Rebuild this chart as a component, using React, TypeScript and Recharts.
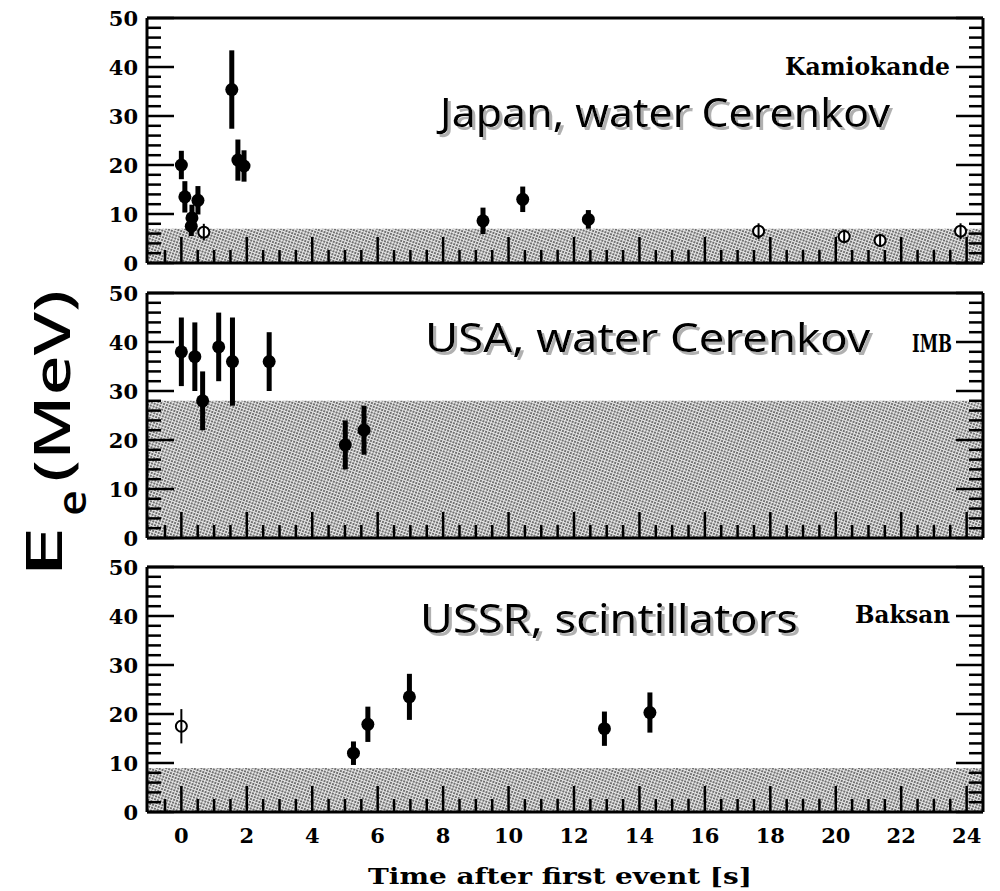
import React from 'react';
import { ScatterChart, Scatter, XAxis, YAxis, ErrorBar, ReferenceArea } from 'recharts';

// Kamiokande events: filled = above threshold, open = below
const kamTimes = [0, 0.107, 0.303, 0.324, 0.507, 1.541, 1.728, 1.915, 9.219, 10.433, 12.439];
const kamEnergy = [20.0, 13.5, 7.5, 9.2, 12.8, 35.4, 21.0, 19.8, 8.6, 13.0, 8.9];
const kamError = [2.9, 3.2, 2.0, 2.7, 2.9, 8.0, 4.2, 3.2, 2.7, 2.6, 1.9];
const kamOpenTimes = [0.686, 17.641, 20.257, 21.355, 23.814];
const kamOpenEnergy = [6.3, 6.5, 5.4, 4.6, 6.5];
const kamOpenError = [1.7, 1.6, 1.4, 1.3, 1.6];

// IMB events
const imbTimes = [0, 0.412, 0.65, 1.141, 1.562, 2.684, 5.01, 5.582];
const imbEnergy = [38, 37, 28, 39, 36, 36, 19, 22];
const imbError = [7, 7, 6, 7, 9, 6, 5, 5];

// Baksan events
const baksanTimes = [5.26, 5.7, 6.97, 12.93, 14.32];
const baksanEnergy = [12.0, 17.9, 23.5, 17.0, 20.3];
const baksanError = [2.4, 3.6, 4.7, 3.5, 4.1];
const baksanOpenTimes = [0];
const baksanOpenEnergy = [17.5];
const baksanOpenError = [3.5];

// detector thresholds (shaded band), MeV
const kamThreshold = 7;
const imbThreshold = 28;
const baksanThreshold = 9;

const xLabels = [0, 2, 4, 6, 8, 10, 12, 14, 16, 18, 20, 22, 24];
const yLabels = [0, 10, 20, 30, 40, 50];

const X_DOMAIN: [number, number] = [-1.05, 24.5];
const Y_DOMAIN: [number, number] = [0, 50];

const xTicks = Array.from({ length: 50 }, (_, i) => -0.5 + i * 0.5);
const yTicks = Array.from({ length: 26 }, (_, i) => i * 2);

const toPoints = (t: number[], e: number[], err: number[]) =>
  t.map((x, i) => ({ t: x, e: e[i], err: err[i] }));

const tickFont = { fontFamily: '"DejaVu Serif", serif', fontWeight: 700, fontSize: 21, fill: '#000' };
const frame = { stroke: '#000', strokeWidth: 3 };
const PLOT_H = 245;
const PAD = 20;

const isMajorX = (v: number) => xLabels.includes(v);
const isMajorY = (v: number) => yLabels.includes(v);

function BottomTick(props: any) {
  const { x, y, payload, showLabel } = props;
  const major = isMajorX(payload.value);
  return (
    <g>
      <line x1={x} x2={x} y1={y} y2={y - (major ? 26 : 13)} stroke="#000" strokeWidth={2.5} />
      {showLabel && major && (
        <text x={x} y={y + 31} textAnchor="middle" {...tickFont}>
          {payload.value}
        </text>
      )}
    </g>
  );
}

function TopTick(props: any) {
  const { x, y, payload } = props;
  const major = isMajorX(payload.value);
  return <line x1={x} x2={x} y1={y} y2={y + (major ? 26 : 13)} stroke="#000" strokeWidth={2.5} />;
}

function LeftTick(props: any) {
  const { x, y, payload } = props;
  const major = isMajorY(payload.value);
  return (
    <g>
      <line x1={x} x2={x + (major ? 27 : 14)} y1={y} y2={y} stroke="#000" strokeWidth={2.5} />
      {major && (
        <text x={x - 9} y={y} dy="0.36em" textAnchor="end" {...tickFont}>
          {payload.value}
        </text>
      )}
    </g>
  );
}

function RightTick(props: any) {
  const { x, y, payload } = props;
  const major = isMajorY(payload.value);
  return <line x1={x} x2={x - (major ? 27 : 14)} y1={y} y2={y} stroke="#000" strokeWidth={2.5} />;
}

const FilledDot = (p: any) => <circle cx={p.cx} cy={p.cy} r={6.5} fill="#000" />;
const OpenDot = (p: any) => (
  <g>
    <circle cx={p.cx} cy={p.cy} r={5.5} fill="#fff" stroke="#000" strokeWidth={2} />
    <line x1={p.cx} x2={p.cx} y1={p.cy - 5.5} y2={p.cy + 5.5} stroke="#000" strokeWidth={2} />
  </g>
);

interface PanelProps {
  top: number;
  bottomH: number;
  threshold: number;
  filled: Array<{ t: number; e: number; err: number }>;
  open: Array<{ t: number; e: number; err: number }>;
  showLabels?: boolean;
}

function Panel({ top, bottomH, threshold, filled, open, showLabels }: PanelProps) {
  return (
    <div style={{ position: 'absolute', left: 0, top: top - PAD }}>
      <ScatterChart width={1000} height={PAD + PLOT_H + bottomH} margin={{ top: 0, right: 0, bottom: 0, left: 0 }}>
        <ReferenceArea
          xAxisId="bottom"
          yAxisId="left"
          x1={X_DOMAIN[0]}
          x2={X_DOMAIN[1]}
          y1={0}
          y2={threshold}
          fill="url(#shade)"
          fillOpacity={1}
          stroke="none"
        />
        <XAxis
          xAxisId="bottom"
          dataKey="t"
          type="number"
          domain={X_DOMAIN}
          ticks={xTicks}
          interval={0}
          allowDataOverflow
          height={bottomH}
          tickSize={0}
          tickMargin={0}
          tickLine={false}
          axisLine={frame}
          tick={(p: any) => <BottomTick {...p} showLabel={showLabels} />}
        />
        <XAxis
          xAxisId="top"
          orientation="top"
          type="number"
          domain={X_DOMAIN}
          ticks={xTicks}
          interval={0}
          allowDataOverflow
          height={PAD}
          tickSize={0}
          tickMargin={0}
          tickLine={false}
          axisLine={frame}
          tick={(p: any) => <TopTick {...p} />}
        />
        <YAxis
          yAxisId="left"
          dataKey="e"
          type="number"
          domain={Y_DOMAIN}
          ticks={yTicks}
          interval={0}
          allowDataOverflow
          width={147}
          tickSize={0}
          tickMargin={0}
          tickLine={false}
          axisLine={frame}
          tick={(p: any) => <LeftTick {...p} />}
        />
        <YAxis
          yAxisId="right"
          orientation="right"
          type="number"
          domain={Y_DOMAIN}
          ticks={yTicks}
          interval={0}
          allowDataOverflow
          width={17}
          tickSize={0}
          tickMargin={0}
          tickLine={false}
          axisLine={frame}
          tick={(p: any) => <RightTick {...p} />}
        />
        <Scatter xAxisId="bottom" yAxisId="left" data={open} shape={OpenDot} isAnimationActive={false}>
          <ErrorBar dataKey="err" direction="y" width={0} strokeWidth={2} stroke="#000" isAnimationActive={false} />
        </Scatter>
        <Scatter xAxisId="bottom" yAxisId="left" data={filled} shape={FilledDot} isAnimationActive={false}>
          <ErrorBar dataKey="err" direction="y" width={0} strokeWidth={5} stroke="#000" isAnimationActive={false} />
        </Scatter>
      </ScatterChart>
    </div>
  );
}

function Caption({ x, y, text, len }: { x: number; y: number; text: string; len: number }) {
  return (
    <text
      x={x}
      y={y}
      textLength={len}
      lengthAdjust="spacingAndGlyphs"
      fill="#000"
      filter="url(#softShadow)"
      style={{ fontFamily: '"Noto Sans", sans-serif', fontSize: 40 }}
    >
      {text}
    </text>
  );
}

function Tag({ x, y, text, len }: { x: number; y: number; text: string; len: number }) {
  return (
    <text x={x} y={y} textLength={len} lengthAdjust="spacingAndGlyphs" {...tickFont} fontSize={24}>
      {text}
    </text>
  );
}

export default function App() {
  const kamFilled = toPoints(kamTimes, kamEnergy, kamError);
  const kamOpen = toPoints(kamOpenTimes, kamOpenEnergy, kamOpenError);
  const imbFilled = toPoints(imbTimes, imbEnergy, imbError);
  const baksanFilled = toPoints(baksanTimes, baksanEnergy, baksanError);
  const baksanOpen = toPoints(baksanOpenTimes, baksanOpenEnergy, baksanOpenError);

  const bigFont = { fontFamily: '"Noto Sans", sans-serif', fontWeight: 500 };

  return (
    <div style={{ position: 'absolute', left: 0, top: 0, width: 1000, height: 891, background: '#fff' }}>
      <Panel top={18} bottomH={PAD} threshold={kamThreshold} filled={kamFilled} open={kamOpen} />
      <Panel top={293} bottomH={PAD} threshold={imbThreshold} filled={imbFilled} open={[]} />
      <Panel top={567} bottomH={80} threshold={baksanThreshold} filled={baksanFilled} open={baksanOpen} showLabels />

      <svg
        width={1000}
        height={891}
        style={{ position: 'absolute', left: 0, top: 0, pointerEvents: 'none' }}
      >
        <defs>
          <pattern id="shade" width={3} height={3} patternUnits="userSpaceOnUse" patternTransform="rotate(20)">
            <rect width={3} height={3} fill="#e8e8e8" />
            <rect width={2} height={2} fill="#707070" />
          </pattern>
          <filter id="softShadow" x="-5%" y="-20%" width="110%" height="150%">
            <feDropShadow dx={3} dy={3} stdDeviation={0.6} floodColor="#b0b0b0" floodOpacity={1} />
          </filter>
        </defs>

        <Caption x={440} y={127} text="Japan, water Cerenkov" len={450} />
        <Caption x={425} y={352} text="USA, water Cerenkov" len={445} />
        <Caption x={420} y={633} text="USSR, scintillators" len={378} />

        <Tag x={785} y={75} text="Kamiokande" len={165} />
        <Tag x={912} y={352} text="IMB" len={40} />
        <Tag x={855} y={623} text="Baksan" len={95} />

        <text x={560} y={884} textAnchor="middle" textLength={384} lengthAdjust="spacingAndGlyphs" {...tickFont} fontSize={23}>
          Time after first event [s]
        </text>

        <text transform="translate(62,578) rotate(-90)" textLength={52} lengthAdjust="spacingAndGlyphs" fontSize={50} style={bigFont}>
          E
        </text>
        <text transform="translate(86,516) rotate(-90)" textLength={26} lengthAdjust="spacingAndGlyphs" fontSize={40} style={bigFont}>
          e
        </text>
        <text transform="translate(70,482) rotate(-90)" textLength={192} lengthAdjust="spacingAndGlyphs" fontSize={50} style={bigFont}>
          (MeV)
        </text>
      </svg>
    </div>
  );
}
